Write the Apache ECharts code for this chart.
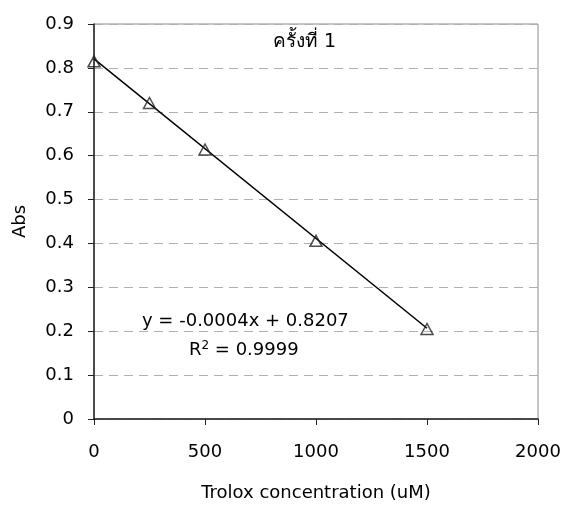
<!DOCTYPE html>
<html>
<head>
<meta charset="utf-8">
<script src="https://cdn.jsdelivr.net/npm/echarts@6/dist/echarts.min.js"></script>
<style>
  html, body { margin: 0; padding: 0; background: #fff; }
  #chart { width: 566px; height: 507px; }
</style>
</head>
<body>
<div id="chart"></div>
<script>
// data
var conc = [0, 250, 500, 1000, 1500];
var absValues = [0.815, 0.72, 0.614, 0.406, 0.205];
// trendline ends as drawn
var trendX = [0, 1500];
var trendY = [0.8207, 0.2067];
var xTicks = [0, 500, 1000, 1500, 2000];
var yTicks = [0, 0.1, 0.2, 0.3, 0.4, 0.5, 0.6, 0.7, 0.8, 0.9];

var FONT = '"DejaVu Sans", "Liberation Sans", Arial, sans-serif';

var points = conc.map(function (x, i) { return [x, absValues[i]]; });
var trend = trendX.map(function (x, i) { return [x, trendY[i]]; });

var myChart = echarts.init(document.getElementById('chart'));

var option = {
  backgroundColor: '#fff',
  animation: false,
  grid: { left: 94, right: 28, top: 24, bottom: 85, show: true, borderColor: '#8a8a8a', borderWidth: 1 },
  xAxis: {
    type: 'value',
    min: 0, max: 2000, interval: 500,
    name: 'Trolox concentration (uM)',
    nameLocation: 'middle',
    nameGap: 65,
    nameTextStyle: { fontFamily: FONT, fontSize: 18, color: '#000' },
    axisLine: { show: true, onZero: false, lineStyle: { color: '#222', width: 1.5 } },
    axisTick: { show: true, length: 6, lineStyle: { color: '#222' } },
    axisLabel: { fontFamily: FONT, fontSize: 18, color: '#000', margin: 24,
      formatter: function (v) { return xTicks.indexOf(v) >= 0 ? String(v) : ''; } },
    splitLine: { show: false }
  },
  yAxis: {
    type: 'value',
    min: 0, max: 0.9, interval: 0.1,
    name: 'Abs',
    nameLocation: 'middle',
    nameGap: 65,
    nameRotate: 90,
    nameTextStyle: { fontFamily: FONT, fontSize: 18, color: '#000' },
    axisLine: { show: true, lineStyle: { color: '#222', width: 1.5 } },
    axisTick: { show: true, length: 6, lineStyle: { color: '#222' } },
    axisLabel: { fontFamily: FONT, fontSize: 18, color: '#000', margin: 20,
      formatter: function (v) {
        var t = yTicks.filter(function (k) { return Math.abs(k - v) < 1e-9; });
        return t.length ? (v === 0 ? '0' : v.toFixed(1)) : '';
      } },
    splitLine: { show: true, lineStyle: { color: '#b0b0b0', type: [9, 6], width: 1 } }
  },
  series: [
    {
      name: 'trend',
      type: 'line',
      data: trend,
      symbol: 'none',
      lineStyle: { color: '#000', width: 1.5 },
      z: 2
    },
    {
      name: 'Abs',
      type: 'scatter',
      data: points,
      symbol: 'triangle',
      symbolSize: [12, 11],
      itemStyle: { color: 'rgba(255,255,255,0)', borderColor: '#222', borderWidth: 1.5 },
      z: 3
    }
  ],
  graphic: [
    { type: 'text', left: 273, top: 33,
      style: { text: 'ครั้งที่ 1', font: '19px ' + FONT, fill: '#000' } },
    { type: 'text', left: 142, top: 312,
      style: { text: 'y = -0.0004x + 0.8207', font: '18px ' + FONT, fill: '#000' } },
    { type: 'text', left: 189, top: 340,
      style: {
        text: 'R{sup|2} = 0.9999',
        font: '18px ' + FONT, fill: '#000',
        rich: { sup: { fontSize: 12, fontFamily: FONT, verticalAlign: 'top', padding: [0, 0, 8, 0], fill: '#000' } }
      } }
  ]
};

myChart.setOption(option);
</script>
</body>
</html>
